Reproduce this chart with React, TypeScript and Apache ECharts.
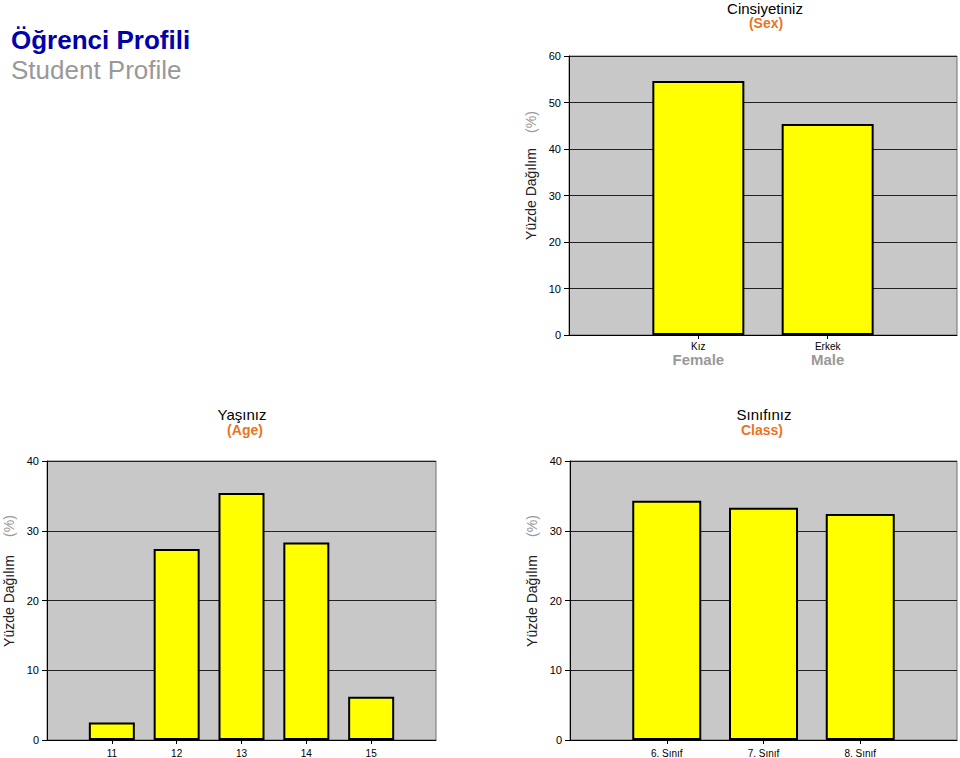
import React, { useEffect, useRef } from "react";
import * as echarts from "echarts";

const sexCategories = ["Kız", "Erkek"];
const sexCategoriesEn = ["Female", "Male"];
const sexValues = [54.6, 45.4];

const ageCategories = ["11", "12", "13", "14", "15"];
const ageValues = [2.5, 27.4, 35.4, 28.3, 6.2];

const classCategories = ["6. Sınıf", "7. Sınıf", "8. Sınıf"];
const classValues = [34.3, 33.3, 32.4];

const sexTicks = [0, 10, 20, 30, 40, 50, 60];
const bottomTicks = [0, 10, 20, 30, 40];

const FONT = "'Liberation Sans', Arial, sans-serif";

function pad<T>(arr: T[], empty: T): T[] {
  return [empty, ...arr, empty];
}

export default function App() {
  const ref = useRef<HTMLDivElement>(null);
  useEffect(() => {
    document.body.style.margin = "0";
    if (!ref.current) return;
    const chart = echarts.init(ref.current, null, { renderer: "svg" });

    const gridStyle = {
      show: true,
      backgroundColor: "#C8C8C8",
      borderColor: "#707070",
      borderWidth: 1,
      containLabel: false,
    };

    const xBase = (idx: number, data: string[], rich: boolean) => ({
      type: "category",
      gridIndex: idx,
      data,
      boundaryGap: false,
      axisLine: { show: true, lineStyle: { color: "#000", width: 1 } },
      axisTick: {
        show: true,
        length: 4,
        interval: (_i: number, v: string) => v !== "",
        lineStyle: { color: "#000" },
      },
      splitLine: { show: false },
      axisLabel: rich
        ? {
            interval: 0,
            margin: 6,
            formatter: (v: string) => {
              const i = sexCategories.indexOf(v);
              if (i < 0) return "";
              return "{a|" + v + "}\n{b|" + sexCategoriesEn[i] + "}";
            },
            rich: {
              a: { fontSize: 10, color: "#000", fontFamily: FONT, lineHeight: 11 },
              b: { fontSize: 15, fontWeight: "bold", color: "#999999", fontFamily: FONT, lineHeight: 14 },
            },
          }
        : { interval: 0, margin: 8, fontSize: 10, color: "#000", fontFamily: FONT },
    });

    const yBase = (idx: number, max: number, ticks: number[]) => ({
      type: "value",
      gridIndex: idx,
      min: ticks[0],
      max,
      interval: ticks[1] - ticks[0],
      axisLine: { show: true, lineStyle: { color: "#000", width: 1 } },
      axisTick: { show: true, length: 5, lineStyle: { color: "#000" } },
      splitLine: { show: true, lineStyle: { color: "#222", width: 1 } },
      axisLabel: { fontSize: 11, color: "#000", fontFamily: FONT, margin: 8 },
    });

    const barStyle = { color: "#FFFF00", borderColor: "#000", borderWidth: 2 };

    const txt = (
      text: string,
      x: number,
      y: number,
      size: number,
      color: string,
      bold = false,
      align = "center",
      rotation = 0
    ) => ({
      type: "text",
      x,
      y,
      rotation,
      style: {
        text,
        fontSize: size,
        fontFamily: FONT,
        fontWeight: bold ? "bold" : "normal",
        fill: color,
        textAlign: align,
        textVerticalAlign: "middle",
        verticalAlign: "middle",
      },
    });

    const orange = "#E8741E";

    chart.setOption({
      animation: false,
      grid: [
        { ...gridStyle, left: 569, top: 56, width: 389, height: 279 },
        { ...gridStyle, left: 47, top: 461, width: 389, height: 280 },
        { ...gridStyle, left: 570, top: 461, width: 388, height: 280 },
      ],
      xAxis: [
        xBase(0, pad(sexCategories, ""), true),
        xBase(1, pad(ageCategories, ""), false),
        xBase(2, pad(classCategories, ""), false),
      ],
      yAxis: [
        yBase(0, sexTicks[sexTicks.length - 1], sexTicks),
        yBase(1, bottomTicks[bottomTicks.length - 1], bottomTicks),
        yBase(2, bottomTicks[bottomTicks.length - 1], bottomTicks),
      ],
      series: [
        {
          type: "bar",
          xAxisIndex: 0,
          yAxisIndex: 0,
          barWidth: 92,
          data: pad<number | null>(sexValues, null),
          itemStyle: barStyle,
        },
        {
          type: "bar",
          xAxisIndex: 1,
          yAxisIndex: 1,
          barWidth: 46,
          data: pad<number | null>(ageValues, null),
          itemStyle: barStyle,
        },
        {
          type: "bar",
          xAxisIndex: 2,
          yAxisIndex: 2,
          barWidth: 69,
          data: pad<number | null>(classValues, null),
          itemStyle: barStyle,
        },
      ],
      graphic: [
        txt("Öğrenci Profili", 11, 40, 26, "#0000AA", true, "left"),
        txt("Student Profile", 11, 70, 26, "#999999", false, "left"),
        txt("Cinsiyetiniz", 765, 8, 15, "#000"),
        txt("(Sex)", 766, 23, 14, orange, true),
        txt("Yaşınız", 242, 414, 15, "#000"),
        txt("(Age)", 245, 430, 14, orange, true),
        txt("Sınıfınız", 764, 414, 15, "#000"),
        txt("Class)", 762, 430, 14, orange, true),
        txt("Yüzde Dağılım", 531, 194, 14, "#222", false, "center", Math.PI / 2),
        txt("(%)", 531, 122, 14, "#999999", false, "center", Math.PI / 2),
        txt("Yüzde Dağılım", 9, 601, 14, "#222", false, "center", Math.PI / 2),
        txt("(%)", 9, 526, 14, "#999999", false, "center", Math.PI / 2),
        txt("Yüzde Dağılım", 532, 601, 14, "#222", false, "center", Math.PI / 2),
        txt("(%)", 532, 526, 14, "#999999", false, "center", Math.PI / 2),
      ],
    });
    return () => chart.dispose();
  }, []);
  return <div ref={ref} style={{ width: 960, height: 758, background: "#fff" }} />;
}
